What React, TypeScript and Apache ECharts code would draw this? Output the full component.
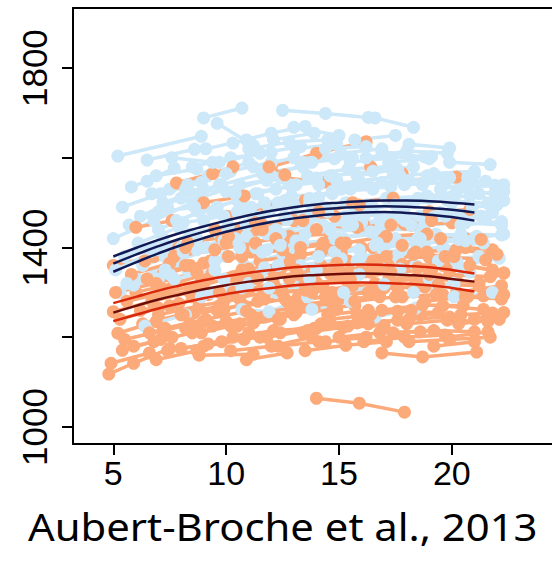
import React, { useEffect, useRef } from "react";
import * as echarts from "echarts";

// Individual trajectories: each row is [age1, value1, age2, value2, ...]
const blueSubjects: number[][] = [
  [5.2, 1604, 8.9, 1648],
  [6.5, 1595, 8.6, 1619],
  [9.0, 1689, 10.7, 1711],
  [9.6, 1677, 11.2, 1628],
  [5.8, 1535, 6.5, 1548, 7.7, 1577],
  [10.3, 1633, 12.0, 1655, 13.5, 1670],
  [12.5, 1706, 14.4, 1699, 16.3, 1690],
  [16.6, 1689, 18.3, 1668],
  [13.0, 1668, 15.0, 1650],
  [16.9, 1613, 18.8, 1602],
  [19.5, 1530, 20.9, 1546, 21.9, 1539],
  [18.5, 1510, 20.2, 1525, 21.9, 1521],
  [5.0, 1420, 6.8, 1460, 8.5, 1500],
  [5.5, 1380, 7.2, 1420],
  [6.0, 1330, 7.8, 1370, 9.5, 1400],
  [5.3, 1300, 7.0, 1330],
  [6.2, 1470, 8.0, 1510, 9.7, 1540],
  [7.0, 1440, 8.8, 1480, 10.5, 1505],
  [7.5, 1530, 9.2, 1560, 11.0, 1590],
  [8.0, 1400, 9.7, 1430, 11.5, 1460],
  [8.3, 1350, 10.0, 1380, 11.8, 1395],
  [8.5, 1580, 10.2, 1600, 12.0, 1612],
  [9.0, 1460, 10.8, 1490, 12.6, 1505],
  [9.3, 1300, 11.0, 1320],
  [9.8, 1540, 11.6, 1565, 13.4, 1580],
  [10.0, 1410, 11.8, 1430, 13.6, 1450],
  [10.5, 1480, 12.3, 1500, 14.1, 1512],
  [10.8, 1360, 12.5, 1385],
  [11.0, 1620, 12.8, 1635, 14.5, 1640],
  [11.3, 1520, 13.1, 1540, 14.9, 1550],
  [11.7, 1440, 13.5, 1465, 15.3, 1470],
  [12.0, 1560, 13.8, 1590, 15.6, 1600],
  [12.2, 1300, 14.0, 1320],
  [12.6, 1470, 14.4, 1490, 16.2, 1495],
  [13.0, 1400, 14.8, 1420, 16.6, 1430],
  [13.3, 1590, 15.1, 1610, 16.9, 1620],
  [13.7, 1510, 15.5, 1530, 17.3, 1535],
  [14.0, 1350, 15.8, 1370, 17.6, 1380],
  [14.3, 1450, 16.1, 1470, 17.9, 1478],
  [14.7, 1560, 16.5, 1570, 18.3, 1580],
  [15.0, 1420, 16.8, 1440, 18.6, 1440],
  [15.3, 1500, 17.1, 1510, 18.9, 1515],
  [15.7, 1640, 17.5, 1650],
  [16.0, 1380, 17.8, 1395, 19.6, 1400],
  [16.3, 1540, 18.1, 1550, 19.9, 1556],
  [16.8, 1460, 18.6, 1470, 20.4, 1472],
  [17.2, 1590, 19.0, 1598],
  [17.5, 1420, 19.3, 1430, 21.1, 1425],
  [18.0, 1500, 19.8, 1505, 21.6, 1498],
  [18.4, 1360, 20.2, 1370],
  [18.8, 1450, 20.6, 1455, 22.2, 1450],
  [19.2, 1560, 21.0, 1562],
  [19.6, 1400, 21.4, 1410],
  [20.0, 1480, 21.8, 1478],
  [20.3, 1360, 22.1, 1376],
  [6.6, 1390, 8.4, 1430, 10.1, 1450],
  [7.2, 1500, 9.0, 1530],
  [5.7, 1450, 7.4, 1490],
  [8.8, 1510, 10.6, 1540, 12.4, 1555],
  [9.5, 1370, 11.3, 1400, 13.1, 1415],
  [10.2, 1570, 12.0, 1590],
  [11.5, 1340, 13.3, 1360, 15.1, 1375],
  [12.8, 1540, 14.6, 1560],
  [10.7, 1262, 11.9, 1257, 13.6, 1290],
  [13.8, 1262, 15.5, 1280],
  [16.6, 1245, 18.4, 1265],
  [5.9, 1316, 7.5, 1340],
  [6.4, 1225, 8.2, 1250],
  [20.1, 1290, 21.8, 1300],
  [19.0, 1330, 20.8, 1345],
  [21.0, 1420, 22.3, 1430],
  [7.8, 1460, 9.6, 1490, 11.4, 1520],
  [15.5, 1590, 17.3, 1600, 19.1, 1603],
  [6.9, 1560, 8.7, 1575],
  [17.9, 1540, 19.7, 1545, 21.5, 1548],
  [13.5, 1430, 15.3, 1455, 17.1, 1460],
  [11.9, 1480, 13.7, 1500],
  [5.4, 1490, 7.1, 1520, 8.9, 1545],
  [5.1, 1350, 6.9, 1395, 8.7, 1420],
  [6.1, 1410, 7.9, 1445],
  [6.7, 1520, 8.3, 1540, 10.0, 1565],
  [7.3, 1380, 9.1, 1400, 10.9, 1425],
  [7.6, 1600, 9.4, 1590],
  [8.1, 1455, 9.9, 1470, 11.7, 1500],
  [8.7, 1395, 10.4, 1420, 12.2, 1440],
  [9.1, 1620, 10.9, 1640],
  [9.4, 1480, 11.2, 1470, 13.0, 1495],
  [9.9, 1330, 11.7, 1355],
  [10.4, 1520, 12.2, 1530, 14.0, 1555],
  [10.9, 1450, 12.7, 1462, 14.5, 1480],
  [11.2, 1580, 13.0, 1600, 14.8, 1598],
  [11.6, 1390, 13.4, 1410, 15.2, 1420],
  [12.1, 1640, 13.9, 1655],
  [12.4, 1430, 14.2, 1445, 16.0, 1455],
  [12.9, 1500, 14.7, 1525, 16.5, 1530],
  [13.2, 1340, 15.0, 1362, 16.8, 1370],
  [13.6, 1560, 15.4, 1575, 17.2, 1580],
  [13.9, 1470, 15.7, 1480, 17.5, 1495],
  [14.4, 1620, 16.2, 1625],
  [14.8, 1390, 16.6, 1405, 18.4, 1410],
  [15.1, 1530, 16.9, 1545, 18.7, 1540],
  [15.6, 1450, 17.4, 1462, 19.2, 1468],
  [15.9, 1340, 17.7, 1352],
  [16.2, 1600, 18.0, 1615, 19.8, 1610],
  [16.5, 1490, 18.3, 1500, 20.1, 1505],
  [17.0, 1400, 18.8, 1410, 20.6, 1415],
  [17.4, 1560, 19.2, 1565, 21.0, 1570],
  [17.7, 1470, 19.5, 1478, 21.3, 1470],
  [18.1, 1630, 19.9, 1622],
  [18.6, 1420, 20.4, 1430, 22.2, 1428],
  [19.0, 1510, 20.8, 1515, 22.3, 1505],
  [19.4, 1370, 21.2, 1380],
  [19.9, 1590, 21.7, 1585],
  [20.4, 1450, 22.2, 1458],
  [20.7, 1535, 22.3, 1540],
  [5.6, 1320, 7.3, 1350],
  [6.3, 1360, 8.1, 1390, 9.9, 1415],
  [7.0, 1480, 8.6, 1490],
  [8.2, 1530, 10.0, 1525, 11.8, 1550],
  [9.7, 1590, 11.5, 1610, 13.3, 1625],
  [10.6, 1400, 12.4, 1405],
  [11.1, 1490, 12.9, 1515, 14.7, 1520],
  [12.3, 1360, 14.1, 1380, 15.9, 1395],
  [13.1, 1620, 14.9, 1630],
  [14.1, 1540, 15.9, 1548, 17.7, 1560],
  [14.6, 1440, 16.4, 1435, 18.2, 1450],
  [15.8, 1560, 17.6, 1575],
  [16.7, 1410, 18.5, 1420, 20.3, 1418],
  [17.9, 1460, 19.7, 1470, 21.5, 1465],
  [18.9, 1560, 20.7, 1555],
  [20.9, 1490, 22.0, 1495],
  [11.9, 1310, 13.7, 1330],
  [8.9, 1290, 10.7, 1310],
  [15.2, 1300, 17.0, 1318],
  [18.3, 1300, 20.1, 1320],
  [7.7, 1330, 9.5, 1350],
  [21.2, 1520, 22.3, 1525],
];

const orangeSubjects: number[][] = [
  [14.0, 1064, 15.9, 1053, 17.9, 1033],
  [4.8, 1118, 5.9, 1142, 7.5, 1175],
  [4.9, 1142, 6.6, 1165],
  [5.2, 1209, 6.9, 1235, 8.6, 1255],
  [5.4, 1171, 7.1, 1195],
  [5.0, 1257, 6.7, 1280, 8.4, 1300],
  [8.8, 1160, 11.2, 1162],
  [5.0, 1360, 6.8, 1380],
  [6.0, 1300, 7.7, 1320, 9.4, 1345],
  [6.3, 1230, 8.0, 1250, 9.7, 1270],
  [6.8, 1190, 8.5, 1210, 10.2, 1225],
  [7.2, 1340, 9.0, 1365, 10.7, 1380],
  [7.5, 1270, 9.2, 1295, 11.0, 1305],
  [7.9, 1400, 9.6, 1430, 11.3, 1440],
  [8.2, 1220, 10.0, 1235, 11.7, 1245],
  [8.6, 1310, 10.3, 1335, 12.1, 1345],
  [9.0, 1180, 10.8, 1195],
  [9.3, 1370, 11.1, 1390, 12.9, 1400],
  [9.6, 1260, 11.4, 1280, 13.2, 1290],
  [10.0, 1470, 11.8, 1490, 13.5, 1505],
  [10.3, 1200, 12.1, 1215, 13.9, 1220],
  [10.6, 1330, 12.4, 1350, 14.2, 1360],
  [11.0, 1410, 12.8, 1425, 14.6, 1430],
  [11.3, 1240, 13.1, 1255, 14.9, 1262],
  [11.7, 1300, 13.5, 1320, 15.3, 1328],
  [12.0, 1580, 14.0, 1610, 16.2, 1636],
  [12.3, 1180, 14.1, 1190],
  [12.6, 1555, 14.4, 1546],
  [12.9, 1380, 14.7, 1395, 16.5, 1400],
  [13.2, 1270, 15.0, 1285, 16.8, 1290],
  [13.6, 1340, 15.4, 1355, 17.2, 1360],
  [14.0, 1220, 15.8, 1232, 17.6, 1238],
  [14.3, 1440, 16.1, 1450, 17.9, 1452],
  [14.7, 1300, 16.5, 1310, 18.3, 1312],
  [15.0, 1200, 16.8, 1210, 18.6, 1212],
  [16.9, 1165, 18.7, 1156, 21.1, 1167],
  [15.4, 1370, 17.2, 1380, 19.0, 1378],
  [15.8, 1250, 17.6, 1258, 19.4, 1255],
  [16.4, 1580, 17.8, 1565],
  [18.0, 1550, 20.2, 1557],
  [16.6, 1320, 18.4, 1330, 20.2, 1328],
  [17.0, 1420, 18.8, 1425, 20.6, 1420],
  [17.4, 1210, 19.2, 1215, 21.0, 1212],
  [17.8, 1290, 19.6, 1295, 21.4, 1292],
  [18.2, 1360, 20.0, 1362, 21.8, 1350],
  [18.6, 1250, 20.4, 1250, 21.8, 1254],
  [19.0, 1480, 20.8, 1485],
  [19.4, 1330, 21.2, 1320, 22.3, 1343],
  [19.8, 1200, 21.6, 1212],
  [20.2, 1300, 22.2, 1315],
  [20.6, 1400, 21.8, 1395],
  [5.6, 1280, 7.3, 1300, 9.0, 1320],
  [6.5, 1330, 8.2, 1360],
  [7.0, 1250, 8.8, 1270, 10.6, 1285],
  [8.0, 1175, 9.8, 1190, 11.5, 1200],
  [8.4, 1360, 10.1, 1380],
  [9.8, 1420, 11.6, 1440],
  [10.8, 1270, 12.6, 1285, 14.4, 1290],
  [11.5, 1370, 13.3, 1385, 15.1, 1390],
  [12.1, 1250, 13.9, 1265, 15.7, 1270],
  [12.8, 1330, 14.6, 1342, 16.4, 1345],
  [13.4, 1210, 15.2, 1222, 17.0, 1226],
  [14.2, 1390, 16.0, 1400, 17.8, 1405],
  [15.2, 1300, 17.0, 1310, 18.8, 1312],
  [16.0, 1350, 17.8, 1362, 19.6, 1360],
  [6.0, 1445, 7.6, 1460],
  [7.8, 1544, 9.4, 1565, 10.3, 1580],
  [11.9, 1580, 12.6, 1562],
  [9.0, 1500, 10.8, 1515],
  [13.0, 1460, 14.8, 1470],
  [15.6, 1500, 17.4, 1510],
  [18.2, 1450, 20.0, 1455],
  [5.3, 1240, 7.0, 1265],
  [6.8, 1290, 8.6, 1305],
  [10.5, 1225, 12.3, 1240],
  [12.5, 1300, 14.3, 1310],
  [14.5, 1250, 16.3, 1260],
  [17.2, 1330, 19.0, 1340],
  [19.6, 1270, 21.4, 1262],
  [20.8, 1360, 22.3, 1343],
  [5.1, 1300, 6.9, 1320, 8.7, 1345],
  [5.5, 1195, 7.2, 1215, 9.0, 1235],
  [5.8, 1340, 7.5, 1365],
  [6.2, 1260, 7.9, 1275, 9.7, 1300],
  [6.6, 1210, 8.4, 1230],
  [7.1, 1310, 8.9, 1325, 10.7, 1350],
  [7.4, 1170, 9.2, 1185, 11.0, 1210],
  [7.7, 1380, 9.5, 1395, 11.3, 1410],
  [8.1, 1250, 9.9, 1262, 11.7, 1285],
  [8.5, 1290, 10.3, 1300, 12.1, 1320],
  [8.9, 1210, 10.6, 1230, 12.4, 1240],
  [9.2, 1330, 11.0, 1352, 12.8, 1365],
  [9.5, 1440, 11.3, 1455],
  [9.9, 1280, 11.7, 1300, 13.5, 1305],
  [10.2, 1170, 12.0, 1180, 13.8, 1200],
  [10.7, 1380, 12.5, 1395, 14.3, 1410],
  [11.1, 1250, 12.9, 1265, 14.7, 1275],
  [11.4, 1330, 13.2, 1340, 15.0, 1350],
  [11.8, 1200, 13.6, 1215, 15.4, 1225],
  [12.2, 1420, 14.0, 1440, 15.8, 1445],
  [12.7, 1280, 14.5, 1290, 16.3, 1300],
  [13.1, 1350, 14.9, 1365, 16.7, 1372],
  [13.5, 1170, 15.3, 1182, 17.1, 1190],
  [13.8, 1300, 15.6, 1315, 17.4, 1320],
  [14.1, 1480, 15.9, 1495],
  [14.6, 1240, 16.4, 1250, 18.2, 1260],
  [14.9, 1340, 16.7, 1350, 18.5, 1355],
  [15.3, 1410, 17.1, 1425, 18.9, 1430],
  [15.7, 1280, 17.5, 1290, 19.3, 1295],
  [16.1, 1190, 17.9, 1200, 19.7, 1205],
  [16.5, 1370, 18.3, 1385, 20.1, 1380],
  [16.9, 1260, 18.7, 1272, 20.5, 1270],
  [17.3, 1450, 19.1, 1460],
  [17.6, 1310, 19.4, 1318, 21.2, 1315],
  [18.0, 1230, 19.8, 1238, 21.6, 1235],
  [18.4, 1390, 20.2, 1395, 22.0, 1385],
  [18.8, 1280, 20.6, 1290, 22.2, 1285],
  [19.2, 1180, 21.0, 1190],
  [19.5, 1420, 21.3, 1418],
  [19.9, 1340, 21.7, 1335],
  [20.3, 1230, 22.1, 1240],
  [20.7, 1290, 22.3, 1295],
  [5.9, 1180, 7.6, 1200],
  [6.4, 1370, 8.2, 1400, 10.0, 1410],
  [7.3, 1220, 9.1, 1240, 10.9, 1258],
  [8.3, 1410, 10.1, 1425],
  [9.4, 1225, 11.2, 1232, 13.0, 1250],
  [10.4, 1300, 12.2, 1310, 14.0, 1322],
  [11.6, 1450, 13.4, 1460],
  [12.4, 1210, 14.2, 1230, 16.0, 1235],
  [13.3, 1400, 15.1, 1410],
  [14.4, 1190, 16.2, 1200],
  [15.5, 1330, 17.3, 1345, 19.1, 1350],
  [16.3, 1230, 18.1, 1240, 19.9, 1245],
  [17.1, 1380, 18.9, 1390],
  [18.1, 1190, 19.9, 1195, 21.7, 1200],
  [19.7, 1380, 21.5, 1372],
  [21.0, 1240, 22.3, 1255],
  [6.9, 1150, 8.7, 1170],
  [10.9, 1150, 12.7, 1165],
];

// Fitted growth curves with confidence bands, one value per year of age
const fitAges = [5, 6, 7, 8, 9, 10, 11, 12, 13, 14, 15, 16, 17, 18, 19, 20, 21];
const blueFit = [1364, 1384, 1403, 1420, 1435, 1448, 1460, 1470, 1478, 1484, 1488, 1491, 1492, 1491, 1488, 1484, 1478];
const blueUpper = [1380, 1399, 1417, 1433, 1447, 1460, 1472, 1482, 1490, 1496, 1500, 1503, 1505, 1505, 1503, 1500, 1496];
const blueLower = [1346, 1367, 1387, 1405, 1421, 1435, 1447, 1457, 1465, 1471, 1475, 1478, 1479, 1477, 1473, 1468, 1460];
const redFit = [1255, 1270, 1284, 1296, 1307, 1316, 1324, 1330, 1336, 1339, 1341, 1342, 1341, 1339, 1336, 1330, 1324];
const redUpper = [1276, 1290, 1304, 1316, 1327, 1336, 1344, 1350, 1356, 1359, 1361, 1362, 1361, 1359, 1356, 1350, 1342];
const redLower = [1236, 1250, 1264, 1276, 1287, 1296, 1304, 1310, 1316, 1319, 1321, 1322, 1321, 1319, 1316, 1310, 1302];

const xTicks = [5, 10, 15, 20];
const yTicks = [1000, 1200, 1400, 1600, 1800];
const yLabels = [1000, 1400, 1800];

const caption = "Aubert-Broche et al., 2013";

const BLUE = "#cde8f8";
const ORANGE = "#fcaa7a";
const NAVY = "#111a55";
const RED = "#d8290c";
const DARK_RED = "#6e0c0a";

const X_MIN = 3.214;
const X_MAX = 24.437;

function toPairs(row: number[]): number[][] {
  const out: number[][] = [];
  for (let i = 0; i < row.length; i += 2) out.push([row[i], row[i + 1]]);
  return out;
}

function subjectSeries(row: number[], color: string) {
  return {
    type: "line",
    data: toPairs(row),
    symbol: "circle",
    symbolSize: 13,
    showSymbol: true,
    lineStyle: { color, width: 3.5 },
    itemStyle: { color, borderWidth: 0 },
    silent: true,
    z: 2,
  };
}

function fitSeries(values: number[], color: string) {
  return {
    type: "line",
    data: fitAges.map((a, i) => [a, values[i]]),
    smooth: true,
    showSymbol: false,
    lineStyle: { color, width: 2.5 },
    silent: true,
    z: 5,
  };
}

export default function App() {
  const ref = useRef<HTMLDivElement>(null);

  useEffect(() => {
    if (!ref.current) return;
    const chart = echarts.init(ref.current, undefined, { renderer: "svg" });

    const series: any[] = [];
    const n = Math.max(blueSubjects.length, orangeSubjects.length);
    for (let i = 0; i < n; i++) {
      if (i < blueSubjects.length) series.push(subjectSeries(blueSubjects[i], BLUE));
      if (i < orangeSubjects.length) series.push(subjectSeries(orangeSubjects[i], ORANGE));
    }
    series.push(fitSeries(blueUpper, NAVY));
    series.push(fitSeries(blueFit, NAVY));
    series.push(fitSeries(blueLower, NAVY));
    series.push(fitSeries(redUpper, RED));
    series.push(fitSeries(redLower, RED));
    series.push(fitSeries(redFit, DARK_RED));

    const axisFont = "Liberation Sans, Arial, Helvetica, sans-serif";

    chart.setOption({
      animation: false,
      backgroundColor: "#ffffff",
      grid: {
        left: 73,
        top: 8,
        right: 0,
        bottom: 118,
        show: false,
        containLabel: false,
      },
      xAxis: [
        {
          type: "value",
          min: X_MIN,
          max: X_MAX,
          axisLine: { show: true, lineStyle: { color: "#000", width: 2 } },
          axisTick: {
            show: true,
            length: 11,
            customValues: xTicks,
            lineStyle: { color: "#000", width: 2 },
          },
          axisLabel: {
            customValues: xTicks,
            color: "#000",
            fontSize: 34,
            fontFamily: axisFont,
            margin: 12,
          },
          splitLine: { show: false },
        },
        {
          // top frame line
          type: "value",
          position: "top",
          min: X_MIN,
          max: X_MAX,
          axisLine: { show: true, onZero: false, lineStyle: { color: "#000", width: 2 } },
          axisTick: { show: false },
          axisLabel: { show: false },
          splitLine: { show: false },
        },
      ],
      yAxis: {
        type: "value",
        min: 962,
        max: 1934,
        axisLine: { show: true, onZero: false, lineStyle: { color: "#000", width: 2 } },
        axisTick: {
          show: true,
          length: 11,
          customValues: yTicks,
          lineStyle: { color: "#000", width: 2 },
        },
        axisLabel: {
          customValues: yLabels,
          formatter: (v: number) => String(v),
          color: "#000",
          fontSize: 35,
          fontFamily: axisFont,
          rotate: 90,
          margin: 21,
        },
        splitLine: { show: false },
      },
      graphic: [
        {
          type: "text",
          x: 28,
          y: 507,
          scaleX: 1.1,
          style: {
            text: caption,
            fill: "#000",
            font: "38px 'Noto Sans'",
            align: "left",
            verticalAlign: "top",
          },
        },
      ],
      series,
    });

    return () => chart.dispose();
  }, []);

  return (
    <div
      ref={ref}
      style={{ position: "fixed", left: 0, top: 0, width: 552, height: 562 }}
    />
  );
}
